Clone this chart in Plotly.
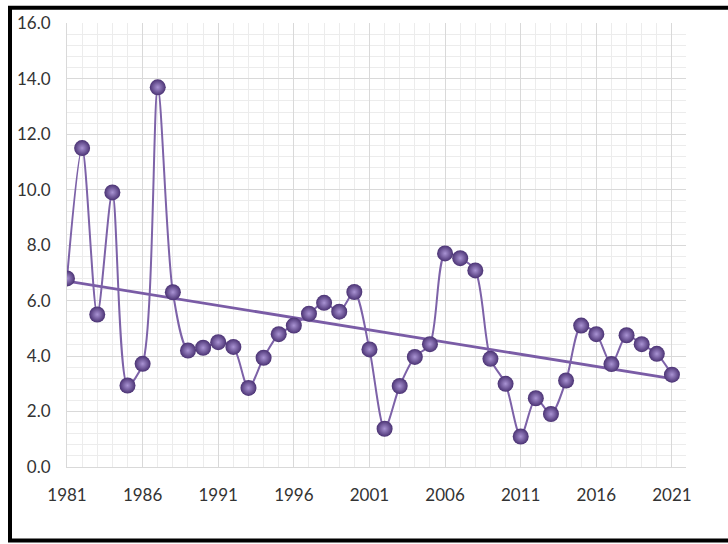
import numpy as np
import plotly.graph_objects as go

years = list(range(1981, 2022))
values = [6.8, 11.5, 5.5, 9.9, 2.94, 3.72, 13.69, 6.3, 4.2, 4.3,
          4.5, 4.33, 2.85, 3.94, 4.79, 5.1, 5.53, 5.92, 5.6, 6.31,
          4.24, 1.38, 2.92, 3.97, 4.43, 7.7, 7.53, 7.09, 3.9, 3.0,
          1.1, 2.48, 1.91, 3.12, 5.1, 4.79, 3.71, 4.75, 4.43, 4.08, 3.33]
x_tick_vals = [1981, 1986, 1991, 1996, 2001, 2006, 2011, 2016, 2021]
y_tick_vals = [0, 2, 4, 6, 8, 10, 12, 14, 16]

LINE = '#7d62a8'
FONT = 'Lato'
TXT = '#333333'

coef = np.polyfit(years, values, 1)
trend_x = [years[0], years[-1]]
trend_y = [coef[0] * x + coef[1] for x in trend_x]

fig = go.Figure()
fig.add_trace(go.Scatter(
    x=trend_x, y=trend_y, mode='lines',
    line=dict(color='#7a5ca6', width=2.8), hoverinfo='skip', showlegend=False))
fig.add_trace(go.Scatter(
    x=years, y=values, mode='lines+markers',
    line=dict(color=LINE, width=2, shape='spline', smoothing=0.8),
    marker=dict(size=16, color='#4a3273',
                gradient=dict(type='radial', color='#a993d3'),
                line=dict(width=0)),
    showlegend=False))

fig.update_layout(
    width=728, height=544,
    margin=dict(l=67, r=42, t=17, b=77),
    paper_bgcolor='white', plot_bgcolor='white',
    font=dict(family=FONT, size=17, color=TXT),
    xaxis=dict(range=[1981, 2021.93], tickvals=x_tick_vals,
               showgrid=True, gridcolor='#d9d9d9', gridwidth=1,
               minor=dict(dtick=1, tick0=1981, showgrid=True, gridcolor='#ececec', gridwidth=1),
               showline=True, linecolor='#d9d9d9', linewidth=1,
               ticks='', ticklabelstandoff=13, zeroline=False,
               tickfont=dict(family=FONT, size=17, color=TXT)),
    yaxis=dict(range=[0, 16.01], tickvals=y_tick_vals, tickformat='.1f',
               showgrid=True, gridcolor='#d9d9d9', gridwidth=1,
               minor=dict(dtick=0.4, tick0=0, showgrid=True, gridcolor='#ececec', gridwidth=1),
               showline=True, linecolor='#d9d9d9', linewidth=1,
               ticks='', ticklabelstandoff=12, zeroline=False,
               tickfont=dict(family=FONT, size=17, color=TXT)),
)

# outer black frame (left, top, bottom edges of the picture)
fig.add_shape(type='rect', xref='paper', yref='paper',
              x0=(10 - 67) / 619, x1=(745 - 67) / 619,
              y0=(467 - 541.5) / 450, y1=(467 - 1.5) / 450,
              line=dict(color='black', width=4), fillcolor='rgba(0,0,0,0)', layer='above')

fig.write_html('out.html')
